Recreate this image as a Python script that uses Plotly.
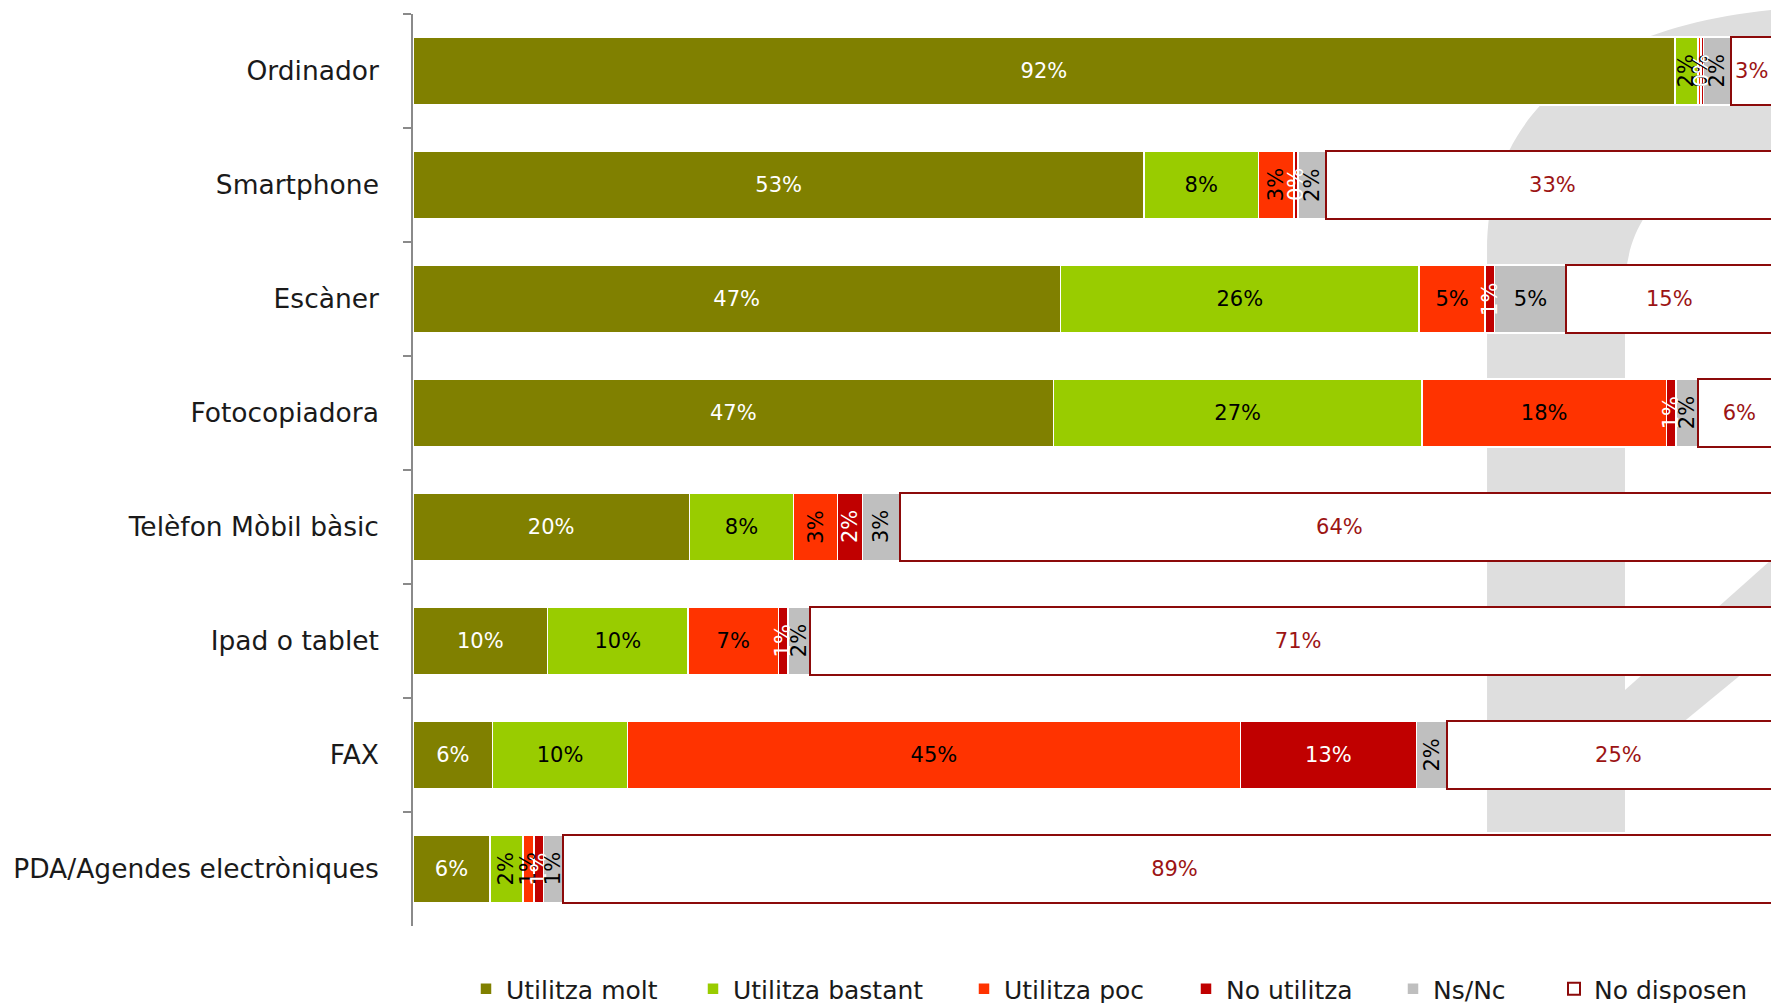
import numpy as np
import plotly.graph_objects as go

# ---------------- data (labels show rounded values) ----------------
categories = ["Ordinador", "Smartphone", "Escàner", "Fotocopiadora",
              "Telèfon Mòbil bàsic", "Ipad o tablet", "FAX",
              "PDA/Agendes electròniques"]
utilitza_molt = [91.8, 53.2, 47.1, 46.6, 20.1, 9.8, 5.8, 5.6]
utilitza_bastant = [1.7, 8.3, 26.1, 26.8, 7.6, 10.2, 9.8, 2.4]
utilitza_poc = [0.2, 2.6, 4.8, 17.8, 3.2, 6.6, 44.6, 0.8]
no_utilitza = [0.2, 0.3, 0.7, 0.7, 1.8, 0.7, 12.8, 0.7]
ns_nc = [2.0, 2.0, 5.2, 1.6, 2.7, 1.6, 2.2, 1.4]
no_disposen = [3, 33, 15, 6, 64, 71, 25, 89]

series_names = ["Utilitza molt", "Utilitza bastant", "Utilitza poc",
                "No utilitza", "Ns/Nc", "No disposen"]
series_values = [utilitza_molt, utilitza_bastant, utilitza_poc,
                 no_utilitza, ns_nc, no_disposen]

# ---------------- styles ----------------
FONT = "DejaVu Sans"
fill_colors = ["#808000", "#99cc00", "#ff3300", "#c00000", "#bfbfbf", "#ffffff"]
line_colors = ["#ffffff", "#ffffff", "#ffffff", "#ffffff", "#ffffff", "#8c0a0a"]
line_widths = [1.5, 1.5, 1.5, 1.5, 1.5, 2]
text_colors = ["#ffffff", "#000000", "#000000", "#ffffff", "#000000", "#9c1414"]
LABEL_SIZE = 21

# ---------------- geometry (window pixels) ----------------
WIN_W, WIN_H = 1771, 1003
L, R, T, B = 413, 1771, 14, 926          # plot area
LEGEND_Y = 989
legend_text_starts = [503, 730, 1001, 1223, 1430, 1591]   # one legend per series

def px(x):
    return (x - L) / (R - L)
def py(y):
    return (B - y) / (B - T)

fig = go.Figure()
annotations = []
legends = {}
base = np.zeros(len(categories))
for i, (name, vals, fc, lc, lw, tc) in enumerate(zip(
        series_names, series_values, fill_colors, line_colors, line_widths, text_colors)):
    vals = np.array(vals, dtype=float)
    narrow = (vals < 3.5) & (name != "No disposen")
    texts = ["" if n else f"{round(v)}%" for v, n in zip(vals, narrow)]
    lg = "legend" if i == 0 else f"legend{i + 1}"
    fig.add_trace(go.Bar(
        y=categories, x=vals, orientation="h", name=name, legend=lg,
        marker=dict(color=fc, line=dict(color=lc, width=lw)),
        text=texts, textposition="inside", insidetextanchor="middle",
        textangle=0, textfont=dict(family=FONT, size=LABEL_SIZE, color=tc),
        hoverinfo="skip", cliponaxis=True,
    ))
    legends[lg] = dict(orientation="h", x=px(legend_text_starts[i] - 37),
                       xanchor="left", y=py(LEGEND_Y), yanchor="middle",
                       font=dict(family=FONT, size=25, color="#1a1a1a"),
                       itemwidth=30, bgcolor="rgba(0,0,0,0)")
    for cat, v, b, n in zip(categories, vals, base, narrow):
        if n:
            annotations.append(dict(
                x=b + v / 2, y=cat, xref="x", yref="y", text=f"{round(v)}%",
                textangle=-90, showarrow=False,
                font=dict(family=FONT, size=LABEL_SIZE, color=tc)))
    base = base + vals

def path(points_cmds):
    out = []
    for cmd, pts in points_cmds:
        coords = " ".join(f"{px(x):.4f},{py(y):.4f}" for x, y in pts)
        out.append(f"{cmd}{coords}")
    return " ".join(out) + " Z"

# decorative background watermark
stem = path([("M", [(1487, 832)]), ("L", [(1487, 250)]),
             ("C", [(1487, 120), (1580, 30), (1771, 10)]),
             ("L", [(1771, 150)]),
             ("C", [(1680, 160), (1625, 210), (1625, 290)]),
             ("L", [(1625, 832)])])
bowl = path([("M", [(1625, 770)]), ("L", [(1771, 650)]),
             ("L", [(1771, 560)]), ("L", [(1625, 690)])])
shapes = [dict(type="path", path=p, xref="paper", yref="paper",
               fillcolor="#dedede", line=dict(width=0), layer="below")
          for p in (stem, bowl)]

fig.update_layout(
    width=WIN_W, height=WIN_H,
    margin=dict(l=L, r=WIN_W - R, t=T, b=WIN_H - B, pad=0, autoexpand=False),
    barmode="stack", bargap=0.4,
    plot_bgcolor="white", paper_bgcolor="white",
    font=dict(family=FONT, color="#1a1a1a"),
    showlegend=True,
    annotations=annotations,
    shapes=shapes,
    uniformtext=dict(minsize=LABEL_SIZE, mode="show"),
    **legends,
)
fig.update_xaxes(range=[0, 98.8], visible=False, showgrid=False, zeroline=False)
fig.update_yaxes(categoryorder="array", categoryarray=categories,
                 autorange="reversed", showline=True, linecolor="#8a8a8a",
                 linewidth=1.5, ticks="outside", tickson="boundaries",
                 ticklen=8, tickcolor="#8a8a8a", tickwidth=1.5,
                 ticklabelstandoff=27, showgrid=False, zeroline=False,
                 tickfont=dict(family=FONT, size=26.5, color="#1a1a1a"))

fig.write_html("out.html",
               config={"displayModeBar": False},
               post_script="document.body.style.margin='0';"
                           "document.body.style.overflow='hidden';")
